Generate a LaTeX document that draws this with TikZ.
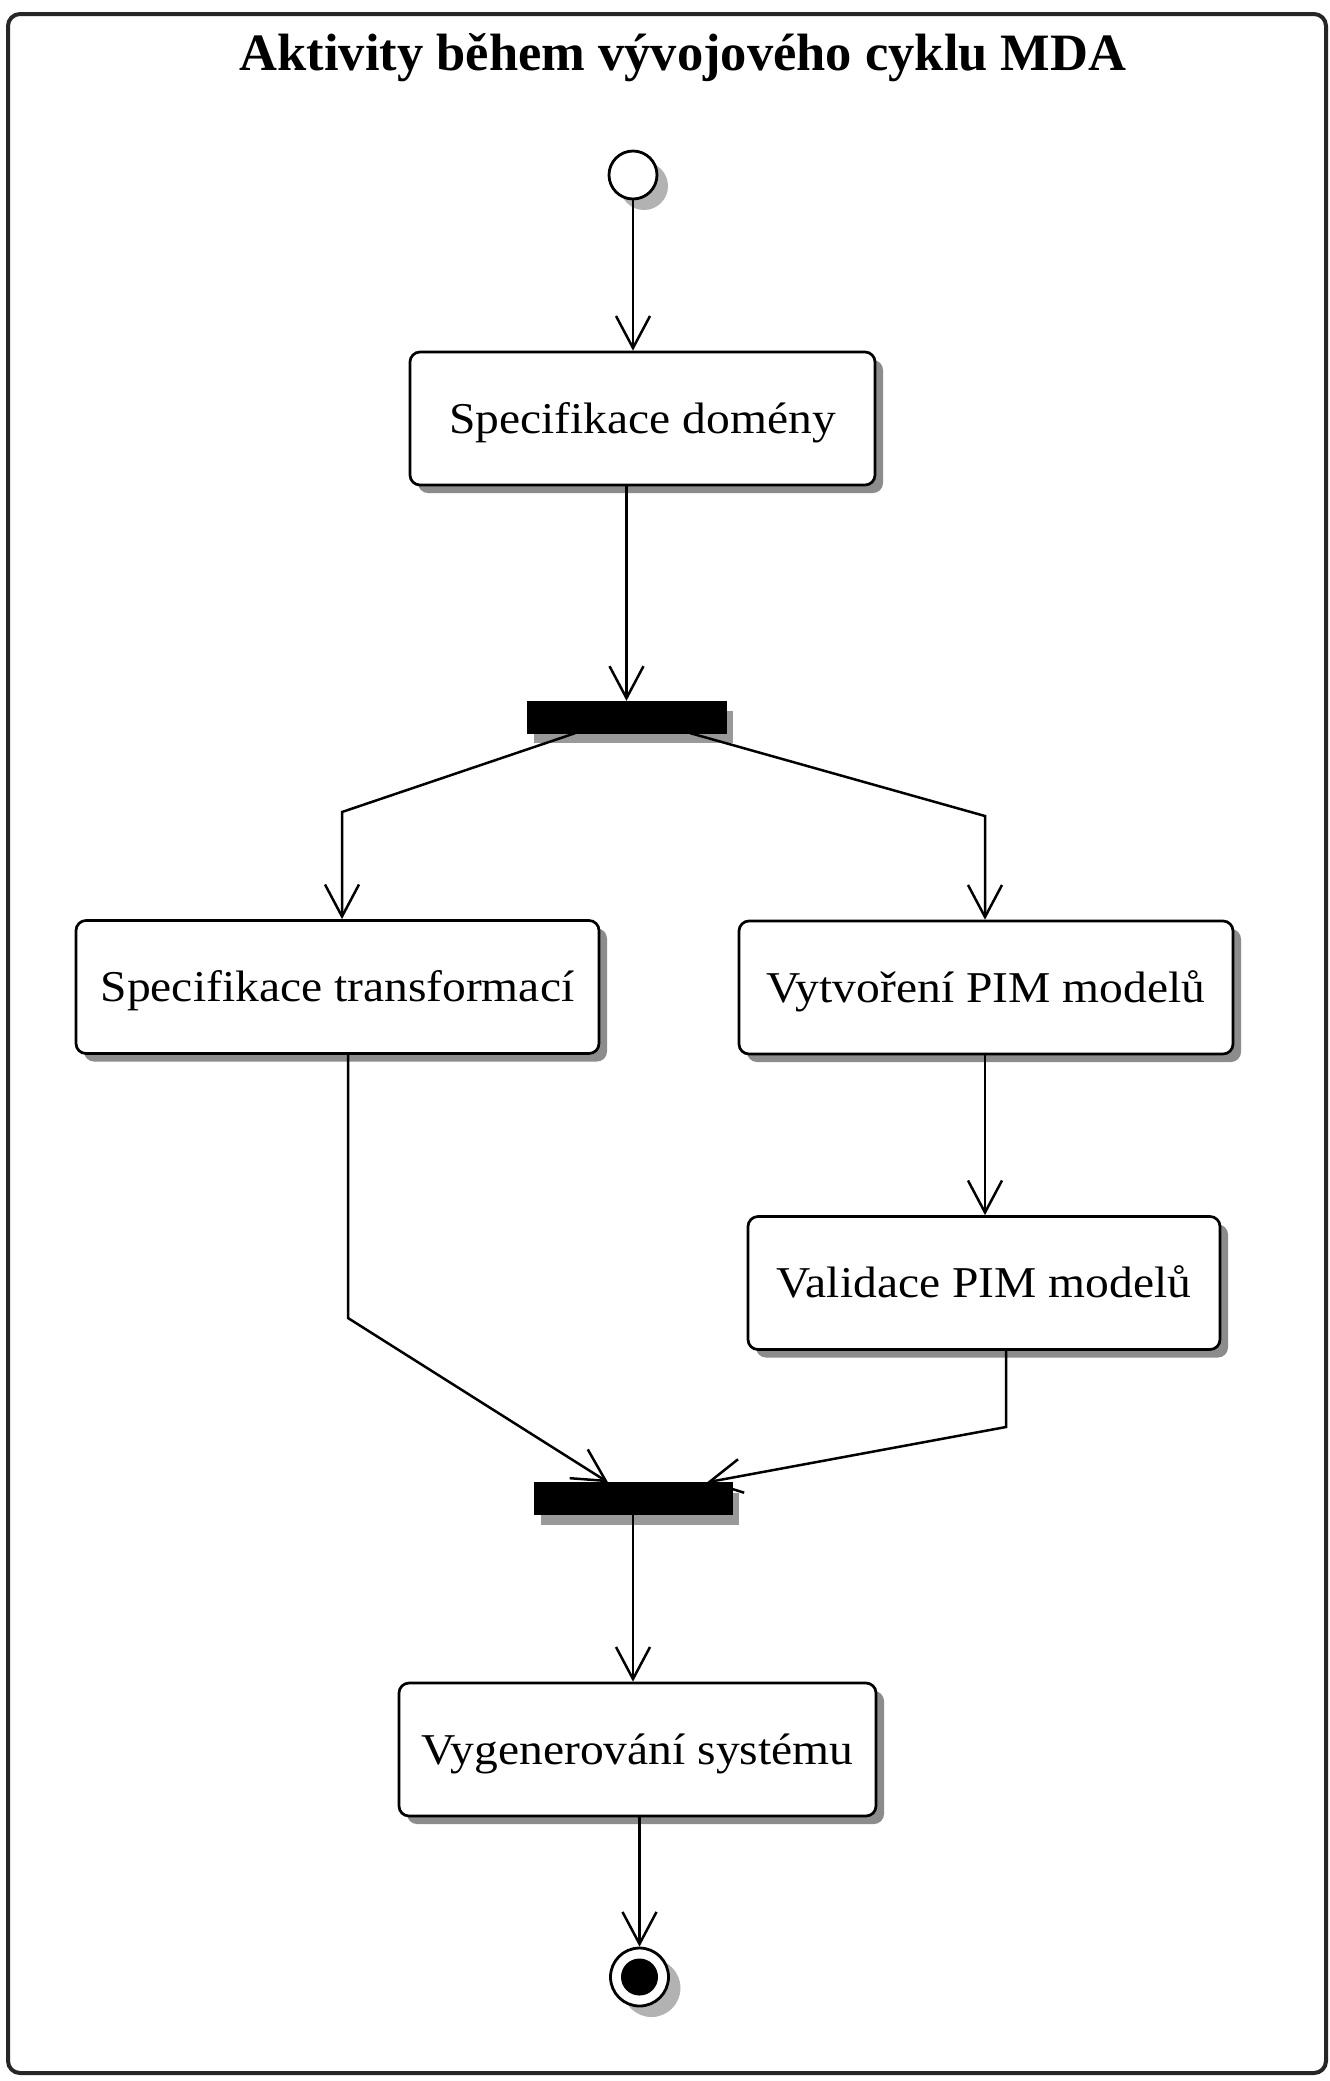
\documentclass[tikz,border=0pt]{standalone}
\usepackage{fontspec}
\setmainfont{Liberation Serif}
\newfontfamily\boxfont[FakeStretch=1.08]{Liberation Serif}
\usetikzlibrary{arrows.meta,shadows}

\tikzset{
  act/.style={draw, line width=2.7pt, rounded corners=10pt, fill=white,
    inner sep=0pt, minimum height=133pt, text height=29pt, text depth=0pt,
    font=\boxfont\fontsize{44}{50}\selectfont,
    drop shadow={shadow xshift=8pt, shadow yshift=-8pt, fill=black!45, opacity=1}},
  syncbar/.style={draw=black, fill=black, inner sep=0pt, minimum height=32pt,
    drop shadow={shadow xshift=7pt, shadow yshift=-10pt, fill=black!40, opacity=1}},
  startnode/.style={circle, draw, line width=2.8pt, fill=white, inner sep=0pt,
    minimum size=48pt,
    drop shadow={shadow xshift=11pt, shadow yshift=-11pt, fill=black!30, opacity=1}},
  endring/.style={circle, draw, line width=2.8pt, fill=white, inner sep=0pt,
    minimum size=58pt,
    drop shadow={shadow xshift=12pt, shadow yshift=-11pt, fill=black!30, opacity=1}},
  flow/.style={line width=2.5pt, -{Straight Barb[length=32pt,width=34pt]}},
}

\begin{document}
\begin{tikzpicture}[x=1pt, y=-1pt]
  \useasboundingbox (0,0) rectangle (1330,2081);
  \fill[white] (0,0) rectangle (1330,2081);

  % outer frame
  \draw[line width=4pt, draw=black!85, rounded corners=12pt]
    (8,14) rectangle (1326,2073);

  % title
  \node[anchor=base, font=\bfseries\fontsize{52.5}{60}\selectfont]
    (title) at (683,70) {Aktivity během vývojového cyklu MDA};

  % initial and final states
  \node[startnode] (start) at (633,175) {};
  \node[endring] (end) at (639.5,1977) {};
  \node[circle, fill=black, inner sep=0pt, minimum size=37pt] (enddot) at (end) {};

  % activities
  \node[act, minimum width=465pt] (dom)  at (642.5,418.5) {Specifikace domény};
  \node[act, minimum width=523pt] (trans) at (337.5,987) {Specifikace transformací};
  \node[act, minimum width=494pt] (pim)  at (986,987.5) {Vytvoření PIM modelů};
  \node[act, minimum width=472pt] (val)  at (984,1283) {Validace PIM modelů};
  \node[act, minimum width=477pt] (gen)  at (637.5,1749.5) {Vygenerování systému};

  % fork and join bars
  \node[syncbar, minimum width=199pt] (fork) at (626.5,717) {};
  \node[syncbar, minimum width=198pt] (join) at (633,1498.5) {};

  % bend points
  \coordinate (bl) at (342,812);
  \coordinate (br) at (985,816);
  \coordinate (jl) at (348,1318);
  \coordinate (jr) at (1006,1427);

  % transitions
  \draw[flow] (start.south) -- (start.south |- dom.north);
  \draw[flow] (dom.south -| fork.north) -- (fork.north);
  \draw[flow] ([xshift=-51.5pt]fork.south) -- (bl) -- (bl |- trans.north);
  \draw[flow] ([xshift=64pt]fork.south) -- (br) -- (br |- pim.north);
  \draw[flow] (br |- pim.south) -- (br |- val.north);
  \draw[flow] (jl |- trans.south) -- (jl) -- ([xshift=-25pt]join.north);
  \draw[flow] (jr |- val.south) -- (jr) -- ([xshift=74pt]join.north);
  \draw[flow] (join.south) -- (join.south |- gen.north);
  \draw[flow] (gen.south -| end.north) -- (end.north);
\end{tikzpicture}
\end{document}
